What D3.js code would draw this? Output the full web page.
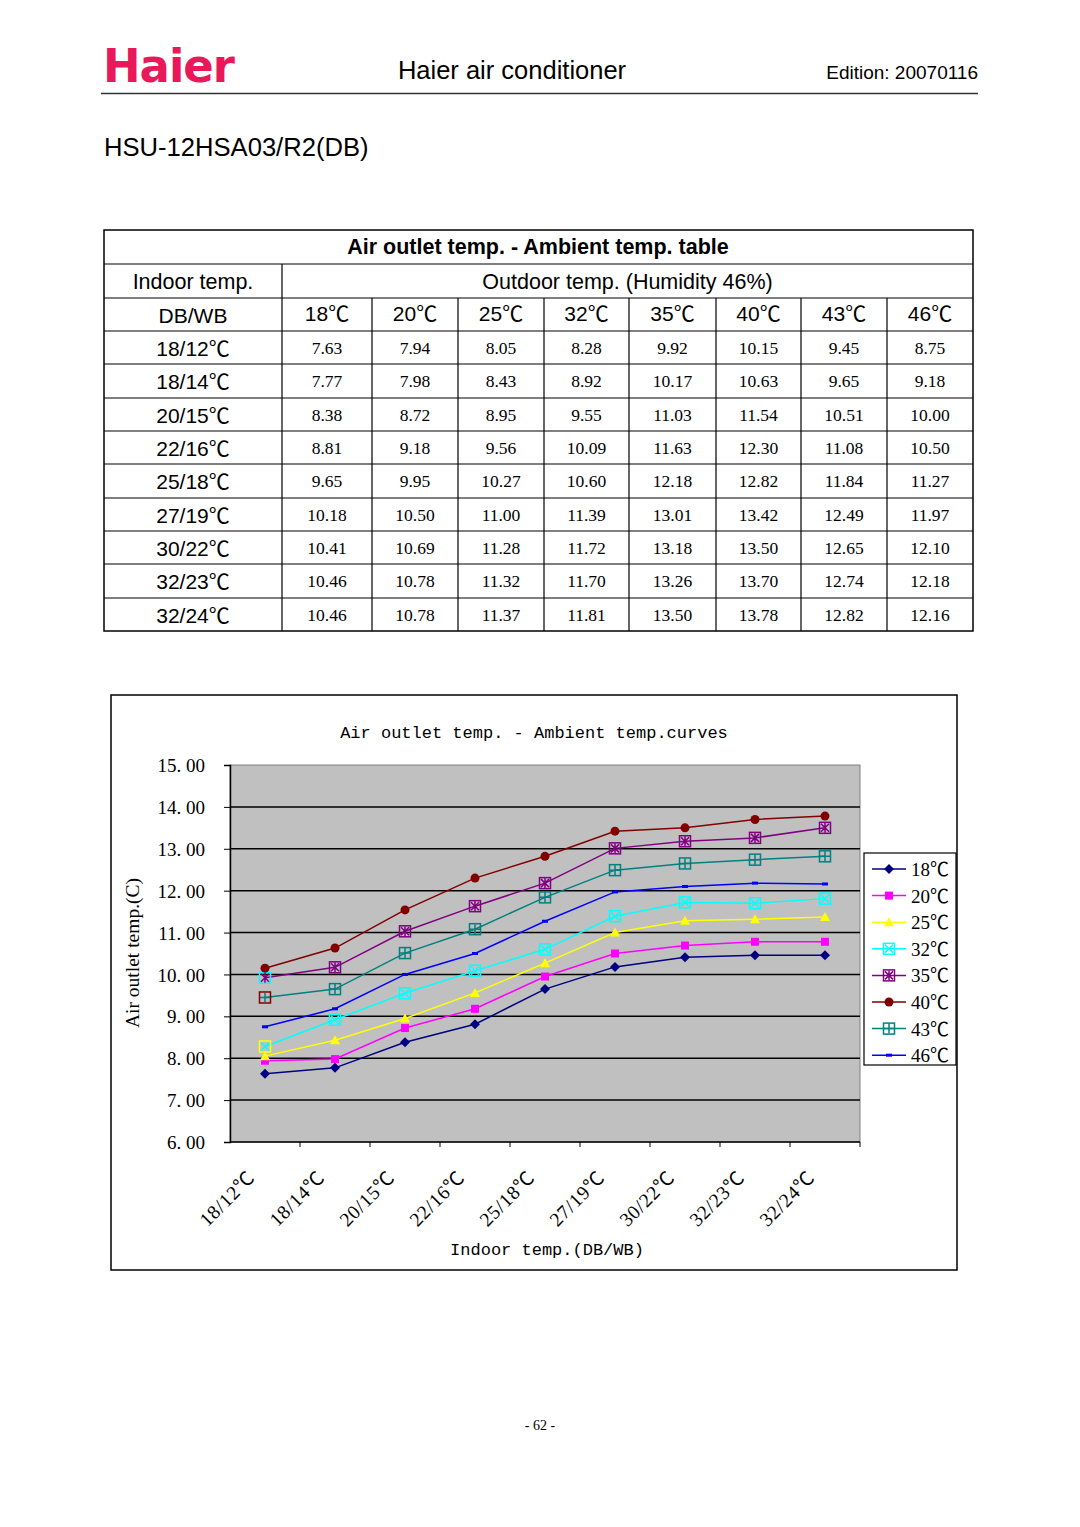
<!DOCTYPE html>
<html><head><meta charset="utf-8">
<script src="https://cdn.jsdelivr.net/npm/d3@7"></script>
<style>body{margin:0;background:#fff}svg{display:block}</style>
</head><body>
<svg id="c" width="1080" height="1527"></svg>
<script>
const indoorTemps = ["18/12℃","18/14℃","20/15℃","22/16℃","25/18℃","27/19℃","30/22℃","32/23℃","32/24℃"];
const outdoorTemps = ["18℃","20℃","25℃","32℃","35℃","40℃","43℃","46℃"];
const t18 = [7.63,7.77,8.38,8.81,9.65,10.18,10.41,10.46,10.46];
const t20 = [7.94,7.98,8.72,9.18,9.95,10.50,10.69,10.78,10.78];
const t25 = [8.05,8.43,8.95,9.56,10.27,11.00,11.28,11.32,11.37];
const t32 = [8.28,8.92,9.55,10.09,10.60,11.39,11.72,11.70,11.81];
const t35 = [9.92,10.17,11.03,11.63,12.18,13.01,13.18,13.26,13.50];
const t40 = [10.15,10.63,11.54,12.30,12.82,13.42,13.50,13.70,13.78];
const t43 = [9.45,9.65,10.51,11.08,11.84,12.49,12.65,12.74,12.82];
const t46 = [8.75,9.18,10.00,10.50,11.27,11.97,12.10,12.18,12.16];
const yTicks = [6,7,8,9,10,11,12,13,14,15];

const seriesVals = [t18,t20,t25,t32,t35,t40,t43,t46];
const colors = ["#000080","#ff00ff","#ffff00","#00ffff","#800080","#800000","#008080","#0000ff"];
const markers = ["diamond","square","triangle","boxX","boxStar","circle","boxPlus","dash"];
// first-point marker frame colour quirk seen in the reference
const firstFrame = [null,null,null,"#ffff00","#00ffff",null,"#800000",null];

const svg = d3.select("#c");
const sans = "'Liberation Sans', Arial, 'Noto Sans CJK SC', sans-serif";
const serif = "'Liberation Serif', 'Times New Roman', 'Noto Sans CJK SC', serif";
const mono = "'Liberation Mono', 'DejaVu Sans Mono', 'Noto Sans CJK SC', monospace";

// ---- Header ----
svg.append("text").attr("x",103).attr("y",82).attr("font-family","'DejaVu Sans', "+sans)
  .attr("font-weight","bold").attr("font-size",46).attr("fill","#e8185a").attr("letter-spacing",-1)
  .attr("textLength",131).attr("lengthAdjust","spacingAndGlyphs").text("Haier");
svg.append("text").attr("x",512).attr("y",79).attr("text-anchor","middle").attr("font-family",sans)
  .attr("font-size",25.5).text("Haier air conditioner");
svg.append("text").attr("x",978).attr("y",79).attr("text-anchor","end").attr("font-family",sans)
  .attr("font-size",19).text("Edition: 20070116");
svg.append("line").attr("x1",101).attr("x2",978).attr("y1",93.5).attr("y2",93.5).attr("stroke","#333").attr("stroke-width",1.5);
svg.append("text").attr("x",104).attr("y",156).attr("font-family",sans).attr("font-size",25.6).text("HSU-12HSA03/R2(DB)");

// ---- Table ----
const colX = [104,282,372,458,544,629,716,801,887,973];
const rowY = [230,264,298,331,364,398,431,464,498,531,564,598,631];
const tg = svg.append("g");
tg.append("rect").attr("x",colX[0]).attr("y",rowY[0]).attr("width",colX[9]-colX[0]).attr("height",rowY[12]-rowY[0])
  .attr("fill","none").attr("stroke","#000").attr("stroke-width",1.5);
rowY.slice(1,-1).forEach(y=>tg.append("line").attr("x1",colX[0]).attr("x2",colX[9]).attr("y1",y).attr("y2",y).attr("stroke","#000").attr("stroke-width",1.2));
tg.append("line").attr("x1",colX[1]).attr("x2",colX[1]).attr("y1",rowY[1]).attr("y2",rowY[12]).attr("stroke","#000").attr("stroke-width",1.2);
colX.slice(2,-1).forEach(x=>tg.append("line").attr("x1",x).attr("x2",x).attr("y1",rowY[2]).attr("y2",rowY[12]).attr("stroke","#000").attr("stroke-width",1.2));
tg.append("text").attr("x",538).attr("y",rowY[0]+24).attr("text-anchor","middle").attr("font-family",sans)
  .attr("font-weight","bold").attr("font-size",21.5).text("Air outlet temp. - Ambient temp. table");
tg.append("text").attr("x",(colX[0]+colX[1])/2).attr("y",rowY[1]+25).attr("text-anchor","middle").attr("font-family",sans)
  .attr("font-size",21.5).text("Indoor temp.");
tg.append("text").attr("x",(colX[1]+colX[9])/2).attr("y",rowY[1]+25).attr("text-anchor","middle").attr("font-family",sans)
  .attr("font-size",21.5).text("Outdoor temp. (Humidity 46%)");
tg.append("text").attr("x",(colX[0]+colX[1])/2).attr("y",rowY[2]+25).attr("text-anchor","middle").attr("font-family",sans)
  .attr("font-size",21).text("DB/WB");
outdoorTemps.forEach((t,i)=>{
  tg.append("text").attr("x",(colX[i+1]+colX[i+2])/2).attr("y",rowY[2]+23).attr("text-anchor","middle")
    .attr("font-family",sans).attr("font-size",21).text(t);
});
indoorTemps.forEach((t,r)=>{
  const y0=rowY[r+3], y1=rowY[r+4];
  tg.append("text").attr("x",(colX[0]+colX[1])/2).attr("y",(y0+y1)/2+8).attr("text-anchor","middle")
    .attr("font-family",sans).attr("font-size",21).text(t);
  seriesVals.forEach((s,i)=>{
    tg.append("text").attr("x",(colX[i+1]+colX[i+2])/2).attr("y",(y0+y1)/2+6).attr("text-anchor","middle")
      .attr("font-family",serif).attr("font-size",17.5).text(s[r].toFixed(2));
  });
});

// ---- Chart ----
svg.append("rect").attr("x",111).attr("y",695).attr("width",846).attr("height",575).attr("fill","#fff")
  .attr("stroke","#000").attr("stroke-width",1.5);
const L=230,R=860,T=765,B=1142;
const x = d3.scaleBand().domain(indoorTemps).range([L,R]);
const y = d3.scaleLinear().domain([6,15]).range([B,T]);
const cg = svg.append("g");
cg.append("rect").attr("x",L).attr("y",T).attr("width",R-L).attr("height",B-T).attr("fill","#c0c0c0").attr("stroke","#808080").attr("stroke-width",1);
yTicks.slice(1,-1).forEach(v=>cg.append("line").attr("x1",L).attr("x2",R).attr("y1",y(v)).attr("y2",y(v)).attr("stroke","#000").attr("stroke-width",1.5));
cg.append("line").attr("x1",L).attr("x2",R).attr("y1",B).attr("y2",B).attr("stroke","#000").attr("stroke-width",1.5);

const yAxis = d3.axisLeft(y).tickValues(yTicks).tickSize(6).tickPadding(20)
  .tickFormat(d=>d3.format(".2f")(d).replace(".",". "));
const ya = cg.append("g").attr("transform",`translate(${L},0)`).call(yAxis);
ya.select(".domain").attr("stroke","#000").attr("stroke-width",1.5);
ya.selectAll("text").attr("font-family",serif).attr("font-size",19).attr("fill","#000").attr("dy","0.35em").attr("x",-25);
ya.selectAll(".tick line").attr("stroke","#000");

// x axis: ticks at band boundaries
const xa = cg.append("g").attr("transform",`translate(0,${B})`);
indoorTemps.forEach((c,i)=>{
  if(i>0) xa.append("line").attr("x1",x(c)).attr("x2",x(c)).attr("y1",0).attr("y2",5).attr("stroke","#000");
});
xa.append("line").attr("x1",R).attr("x2",R).attr("y1",0).attr("y2",5).attr("stroke","#000");
indoorTemps.forEach(c=>{
  const cx = x(c)+x.bandwidth()/2;
  xa.append("text").attr("transform",`translate(${cx-9},${37}) rotate(-45)`).attr("text-anchor","end")
    .attr("font-family",serif).attr("font-size",19.5).attr("letter-spacing",0.8).text(c);
});

cg.append("text").attr("x",534).attr("y",738).attr("text-anchor","middle").attr("font-family",mono)
  .attr("font-size",17).text("Air outlet temp.  - Ambient temp.curves");
cg.append("text").attr("x",547).attr("y",1255).attr("text-anchor","middle").attr("font-family",mono)
  .attr("font-size",17).text("Indoor temp.(DB/WB)");
cg.append("text").attr("transform","translate(139,953) rotate(-90)").attr("text-anchor","middle")
  .attr("font-family",serif).attr("font-size",19.5).text("Air outlet temp.(C)");

function drawMarker(g, type, color, cx, cy, frame){
  const m = g.append("g").attr("transform",`translate(${cx},${cy})`);
  if(type==="diamond") m.append("path").attr("d","M0,-5L5,0L0,5L-5,0Z").attr("fill",color);
  else if(type==="square") m.append("rect").attr("x",-4).attr("y",-4).attr("width",8).attr("height",8).attr("fill",color);
  else if(type==="triangle") m.append("path").attr("d","M0,-5L5,4L-5,4Z").attr("fill",color);
  else if(type==="circle") m.append("circle").attr("r",4.5).attr("fill",color);
  else if(type==="dash") m.append("rect").attr("x",-3).attr("y",-1.5).attr("width",6).attr("height",3).attr("fill",color);
  else {
    m.append("rect").attr("x",-5.5).attr("y",-5.5).attr("width",11).attr("height",11).attr("fill","none")
      .attr("stroke",frame||color).attr("stroke-width",1.5);
    let d="";
    if(type==="boxX") d="M-4,-4L4,4M4,-4L-4,4";
    if(type==="boxPlus") d="M0,-5L0,5M-5,0L5,0";
    if(type==="boxStar") d="M-4,-4L4,4M4,-4L-4,4M0,-5L0,5";
    m.append("path").attr("d",d).attr("stroke",color).attr("stroke-width",1.5).attr("fill","none");
  }
}

const line = d3.line().x((d,i)=>x(indoorTemps[i])+x.bandwidth()/2).y(d=>y(d));
seriesVals.forEach((s,k)=>{
  const g = cg.append("g");
  g.append("path").attr("d",line(s)).attr("fill","none").attr("stroke",colors[k]).attr("stroke-width",1.5);
  s.forEach((v,i)=>drawMarker(g,markers[k],colors[k],x(indoorTemps[i])+x.bandwidth()/2,y(v), i===0?firstFrame[k]:null));
});

// legend
const lg = svg.append("g");
lg.append("rect").attr("x",864).attr("y",853).attr("width",92).attr("height",212).attr("fill","#fff").attr("stroke","#000").attr("stroke-width",1.2);
outdoorTemps.forEach((t,k)=>{
  const ly = 869 + k*26.6;
  lg.append("line").attr("x1",872).attr("x2",906).attr("y1",ly).attr("y2",ly).attr("stroke",colors[k]).attr("stroke-width",1.5);
  drawMarker(lg,markers[k],colors[k],889,ly,null);
  lg.append("text").attr("x",911).attr("y",ly+7).attr("font-family",serif).attr("font-size",19).text(t);
});

svg.append("text").attr("x",540).attr("y",1430).attr("text-anchor","middle").attr("font-family",serif)
  .attr("font-size",14).text("- 62 -");
</script>
</body></html>
